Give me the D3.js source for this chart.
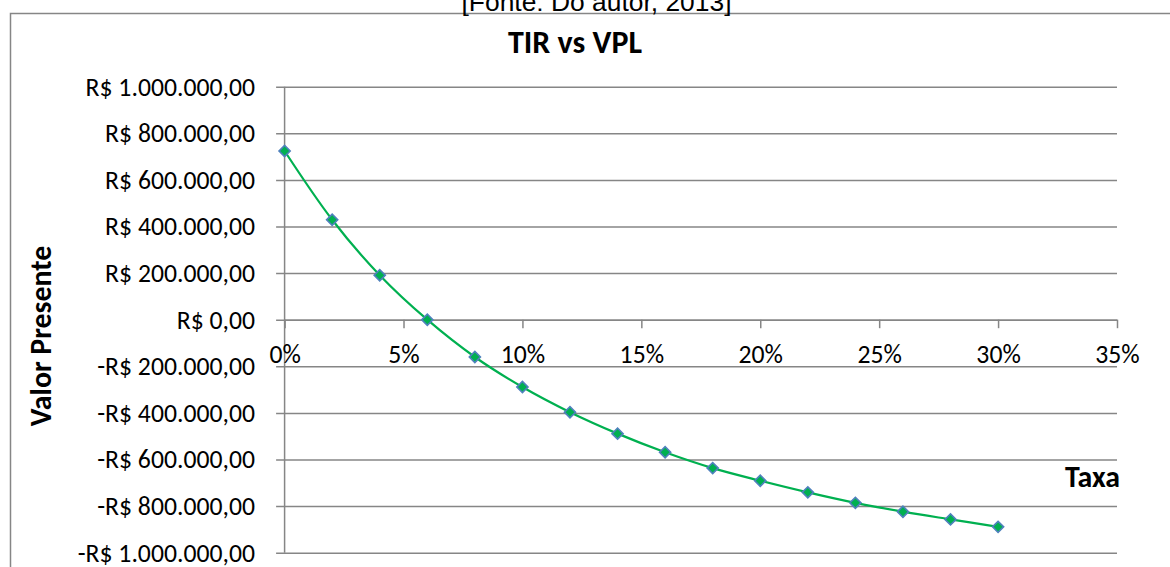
<!DOCTYPE html>
<html>
<head>
<meta charset="utf-8">
<script src="https://cdn.jsdelivr.net/npm/d3@7"></script>
<style>
  html, body { margin: 0; padding: 0; background: #fff; }
  svg { display: block; }
</style>
</head>
<body>
<svg id="chart" width="1170" height="567"></svg>
<script>
// ---- data ----
const taxa = [0, 0.02, 0.04, 0.06, 0.08, 0.10, 0.12, 0.14, 0.16, 0.18, 0.20, 0.22, 0.24, 0.26, 0.28, 0.30];
const vpl  = [724000, 429000, 191000, 0, -160000, -289000, -397000, -489000, -569000, -637000, -691000, -741000, -786000, -824000, -857000, -889000];
const yTickValues = [1000000, 800000, 600000, 400000, 200000, 0, -200000, -400000, -600000, -800000, -1000000];
const yTickLabels = ["R$ 1.000.000,00", "R$ 800.000,00", "R$ 600.000,00", "R$ 400.000,00", "R$ 200.000,00", "R$ 0,00",
                     "-R$ 200.000,00", "-R$ 400.000,00", "-R$ 600.000,00", "-R$ 800.000,00", "-R$ 1.000.000,00"];
const xTickValues = [0, 0.05, 0.10, 0.15, 0.20, 0.25, 0.30, 0.35];
const xTickLabels = ["0%", "5%", "10%", "15%", "20%", "25%", "30%", "35%"];
const titleText = "TIR vs VPL";
const sourceText = "[Fonte: Do autor, 2013]";
const yTitle = "Valor Presente";
const xTitle = "Taxa";

(function () {
// ---- setup ----
const svg = d3.select("#chart");
const FONT = "Carlito, Lato, 'Open Sans', sans-serif";
const GRAY = "#868686";

function fitSize(text, family, weight, target) {
  const t = svg.append("text").attr("font-family", family).attr("font-weight", weight)
    .attr("font-size", 100).text(text);
  const w = t.node().getComputedTextLength();
  t.remove();
  return 100 * target / w;
}

const tickFS = fitSize("R$ 800.000,00", FONT, "normal", 150);
const titleFS = fitSize(titleText, FONT, "bold", 134);
const axisTitleFS = fitSize(xTitle, FONT, "bold", 55);

const pLeft = 284.6, pRight = 1117, pTop = 86.7, pBottom = 552.7;
const x = d3.scaleLinear().domain([0, 0.35]).range([pLeft, pRight]);
const y = d3.scaleLinear().domain([-1000000, 1000000]).range([pBottom, pTop]);

// outer chart border
svg.append("rect").attr("x", 10.5).attr("y", 13.5).attr("width", 1300).attr("height", 700)
  .attr("fill", "#fff").attr("stroke", GRAY).attr("stroke-width", 1.5);

// source text (cut at top)
svg.append("text").attr("x", 596.5).attr("y", 11).attr("text-anchor", "middle")
  .attr("font-family", "'Liberation Sans', Arial, sans-serif").attr("font-size", 26.4)
  .attr("fill", "#000").text(sourceText);

// title
svg.append("text").attr("x", 575).attr("y", 53.3).attr("text-anchor", "middle")
  .attr("font-family", FONT).attr("font-weight", "bold").attr("font-size", titleFS)
  .attr("fill", "#000").text(titleText);

// y axis with gridlines
const yAxis = d3.axisLeft(y).tickValues(yTickValues)
  .tickFormat((d, i) => yTickLabels[i])
  .tickSize(-(pRight - pLeft)).tickSizeOuter(0).tickPadding(29.6);
const gy = svg.append("g").attr("transform", `translate(${pLeft},0)`).call(yAxis);
gy.select(".domain").remove();
gy.selectAll(".tick line").attr("x1", -8.5).attr("stroke", GRAY).attr("stroke-width", 1.5);
gy.selectAll(".tick text").attr("font-family", FONT).attr("font-size", tickFS)
  .attr("fill", "#000").attr("dy", null).attr("y", 8.4);

// vertical axis line
svg.append("line").attr("x1", pLeft).attr("x2", pLeft).attr("y1", pTop).attr("y2", pBottom)
  .attr("stroke", GRAY).attr("stroke-width", 1.5);

// x axis at zero
const xAxis = d3.axisBottom(x).tickValues(xTickValues)
  .tickFormat((d, i) => xTickLabels[i]).tickSize(8.5).tickSizeOuter(0);
const gx = svg.append("g").attr("transform", `translate(0,${y(0)})`).call(xAxis);
gx.select(".domain").attr("stroke", GRAY).attr("stroke-width", 1.5);
gx.selectAll(".tick line").attr("stroke", GRAY).attr("stroke-width", 1.5);
gx.selectAll(".tick text").attr("font-family", FONT).attr("font-size", tickFS)
  .attr("fill", "#000").attr("dy", null).attr("y", 43.3);

// axis titles
svg.append("text").attr("transform", `translate(50.5,${336}) rotate(-90)`)
  .attr("text-anchor", "middle").attr("font-family", FONT).attr("font-weight", "bold")
  .attr("font-size", axisTitleFS).attr("fill", "#000").text(yTitle);
svg.append("text").attr("x", 1120).attr("y", 486.7).attr("text-anchor", "end")
  .attr("font-family", FONT).attr("font-weight", "bold")
  .attr("font-size", axisTitleFS).attr("fill", "#000").text(xTitle);

// series
const pts = taxa.map((t, i) => [t, vpl[i]]);
const line = d3.line().x(d => x(d[0])).y(d => y(d[1])).curve(d3.curveCatmullRom.alpha(0.5));
svg.append("path").datum(pts).attr("d", line).attr("fill", "none")
  .attr("stroke", "#00B050").attr("stroke-width", 2.2);

const sym = d3.symbol().type(d3.symbolSquare).size(62);
svg.append("g").selectAll("path").data(pts).join("path")
  .attr("d", sym)
  .attr("transform", d => `translate(${x(d[0])},${y(d[1])}) rotate(45)`)
  .attr("fill", "#00B050").attr("stroke", "#4F81BD").attr("stroke-width", 1.6);
})();
</script>
</body>
</html>
